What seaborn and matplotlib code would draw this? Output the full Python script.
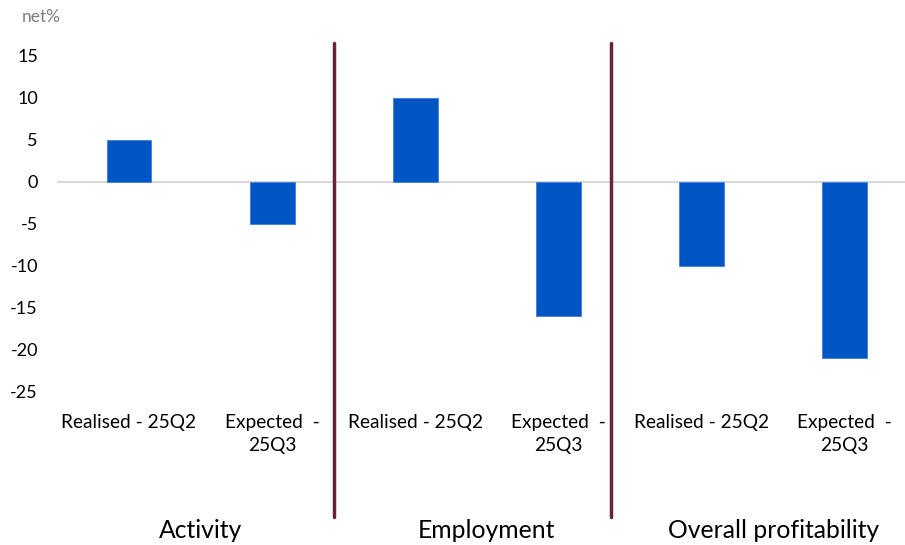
import matplotlib
matplotlib.use("Agg")
import matplotlib.pyplot as plt
import seaborn as sns
import pandas as pd

groups = ["Activity", "Employment", "Overall profitability"]
periods = ["Realised - 25Q2", "Expected  -\n25Q3"]
values = [5, -5, 10, -16, -10, -21]
yticks = [15, 10, 5, 0, -5, -10, -15, -20, -25]

rows = []
for gi, g in enumerate(groups):
    for pi, p in enumerate(periods):
        rows.append({"slot": f"{g}|{p}", "group": g, "period": p,
                     "value": values[gi * len(periods) + pi]})
df = pd.DataFrame(rows)

sns.set_theme(style="white")
plt.rcParams["font.family"] = ["Lato", "DejaVu Sans"]

fig = plt.figure(figsize=(9.05, 5.45), dpi=100)
W, H = 905, 545
left_px, right_px = 57.4, 905
top_px, bot_px = 56, 392
ax = fig.add_axes([left_px / W, 1 - bot_px / H, (right_px - left_px) / W, (bot_px - top_px) / H])

sns.barplot(data=df, x="slot", y="value", color="#0055C4", width=0.314,
            saturation=1, ax=ax, edgecolor="#3F7FD8", linewidth=0.6)

ax.set_xlim(-0.5, 5.42)
ax.set_ylim(-25, 15)
ax.set_yticks(yticks)
ax.set_yticklabels([str(v) for v in yticks], fontsize=13, color="#000000")
ax.set_xticks(range(len(df)))
ax.set_xticklabels(df["period"], fontsize=13.8, color="#000000", linespacing=1.45)
ax.tick_params(axis="both", length=0)
ax.tick_params(axis="y", pad=14)
ax.tick_params(axis="x", pad=15.5)
ax.set_xlabel("")
ax.set_ylabel("")
for s in ax.spines.values():
    s.set_visible(False)
ax.grid(False)

ax.axhline(0, color="#D9D9D9", linewidth=1.5, zorder=0)

# separators between groups
span = bot_px - top_px
for xs in [1.43, 3.37]:
    ax.axvline(xs, ymin=(bot_px - 517) / span, ymax=(bot_px - 43) / span,
               color="#662340", linewidth=2.5, clip_on=False)

# group labels
trans = ax.get_xaxis_transform()
for gi, g in enumerate(groups):
    xc = gi * 2 + 0.5
    ax.text(xc, (bot_px - 531) / span, g, transform=trans,
            ha="center", va="center", fontsize=17.8, color="#000000")

fig.text(22 / W, 1 - 17 / H, "net%", ha="left", va="center", fontsize=12.5, color="#7F7F7F")

fig.savefig("out.png", dpi=100, facecolor="white")
